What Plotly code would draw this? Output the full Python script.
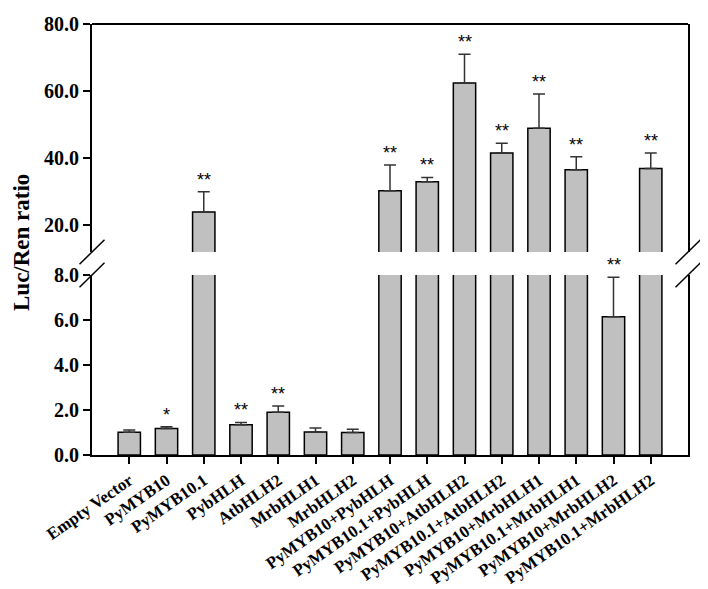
import plotly.graph_objects as go

categories = ["Empty Vector", "PyMYB10", "PyMYB10.1", "PybHLH", "AtbHLH2",
              "MrbHLH1", "MrbHLH2", "PyMYB10+PybHLH", "PyMYB10.1+PybHLH",
              "PyMYB10+AtbHLH2", "PyMYB10.1+AtbHLH2", "PyMYB10+MrbHLH1",
              "PyMYB10.1+MrbHLH1", "PyMYB10+MrbHLH2", "PyMYB10.1+MrbHLH2"]
values = [1.01, 1.18, 23.9, 1.35, 1.9, 1.02, 1.0, 30.2, 32.9, 62.4, 41.5,
          48.9, 36.5, 6.15, 36.9]
errors = [0.1, 0.08, 6.0, 0.1, 0.28, 0.18, 0.14, 7.7, 1.3, 8.6, 2.9,
          10.2, 3.9, 1.75, 4.6]
signif = ["", "*", "**", "**", "**", "", "", "**", "**", "**", "**", "**",
          "**", "**", "**"]
lower_ticks = [0, 2, 4, 6, 8]
upper_ticks = [20, 40, 60, 80]

# layout geometry (pixels); page body adds an 8 px margin
OFF = 8
W, H = 708 - OFF, 589 - OFF
L, T = 92 - OFF, 24 - OFF
R = W - (688 - OFF)
B = H - (455 - OFF)
plot_w = W - L - R
plot_h = H - T - B
lower_top_px = 275   # page y of top of lower segment
upper_bot_px = 252   # page y of bottom of upper segment
lower_dom = [0, (455 - lower_top_px) / plot_h]
upper_dom = [(455 - upper_bot_px) / plot_h, 1]
lower_range = [0, 8]
px_per_unit_up = 67 / 20
upper_range = [80 - (upper_bot_px - 24) / px_per_unit_up, 80]

fill = "#c0c0c0"
errcol = "#333333"
serif = "Liberation Serif"

fig = go.Figure()
for yax in ["y", "y2"]:
    fig.add_trace(go.Bar(
        x=categories, y=values, yaxis=yax, width=0.6,
        marker=dict(color=fill, line=dict(color="black", width=1.5)),
        error_y=dict(type="data", symmetric=False, array=errors,
                     arrayminus=[0] * len(errors), color=errcol,
                     thickness=1.5, width=6),
        showlegend=False, hoverinfo="skip"))

annotations = []
for c, v, e, s in zip(categories, values, errors, signif):
    if not s:
        continue
    top = v + e
    yref = "y" if top <= lower_range[1] else "y2"
    annotations.append(dict(x=c, y=top, xref="x", yref=yref, text=s,
                            showarrow=False, yshift=12,
                            font=dict(family="Liberation Sans", size=18,
                                      color="black")))

annotations.append(dict(x=(22 - 92) / plot_w, y=(455 - 243) / plot_h,
                        xref="paper", yref="paper", text="Luc/Ren ratio",
                        textangle=-90, showarrow=False,
                        xanchor="center", yanchor="middle",
                        font=dict(family=serif, size=23, color="black",
                                  weight="bold")))

shapes = [dict(type="line", xref="paper", yref="paper", x0=0, x1=1, y0=1,
               y1=1, line=dict(color="black", width=2))]
dxp = 12.5 / plot_w
dyp = 12.3 / plot_h
for xc in [0, 1]:
    for yc in [upper_dom[0], lower_dom[1]]:
        shapes.append(dict(type="line", xref="paper", yref="paper",
                           x0=xc - dxp, x1=xc + dxp, y0=yc - dyp, y1=yc + dyp,
                           line=dict(color="black", width=1.5)))

axis_common = dict(showline=True, linecolor="black", linewidth=2,
                   ticks="outside", ticklen=7, tickwidth=2, tickcolor="black",
                   showgrid=False, zeroline=False, mirror=True,
                   automargin=False, tickformat=".1f",
                   tickfont=dict(family=serif, size=20, color="black",
                                 weight="bold"))

fig.update_layout(
    width=W, height=H,
    margin=dict(l=L, r=R, t=T, b=B, autoexpand=False),
    plot_bgcolor="white", paper_bgcolor="white",
    bargap=0.4,
    xaxis=dict(type="category", range=[-1, len(categories)],
               showline=True, linecolor="black", linewidth=2,
               ticks="outside", ticklen=7, tickwidth=1.5, tickcolor="black",
               showgrid=False, zeroline=False, tickangle=-35,
               automargin=False,
               tickfont=dict(family=serif, size=17, color="black",
                             weight="bold")),
    yaxis=dict(domain=lower_dom, range=lower_range, tickvals=lower_ticks,
               **axis_common),
    yaxis2=dict(domain=upper_dom, range=upper_range, tickvals=upper_ticks,
                anchor="x", **axis_common),
    annotations=annotations,
    shapes=shapes,
)

fig.write_html("out.html")
